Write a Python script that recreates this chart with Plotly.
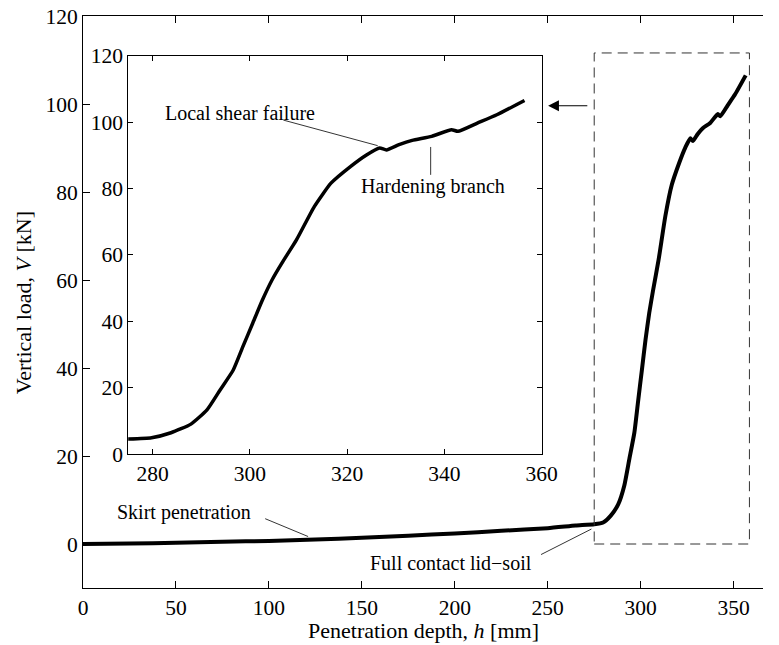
import plotly.graph_objects as go

# Penetration depth h [mm] and vertical load V [kN]
h = [0, 25, 50, 75, 100, 125, 150, 175, 200, 225, 250, 265, 275, 279.8, 283.8,
     287.9, 291.2, 293.9, 296.6, 298.6, 300.6, 302.6, 304.6, 306.6, 309.6, 313.3,
     316.7, 320.7, 324.0, 326.7, 328.1, 330.7, 333.4, 337.4, 341.5, 342.8, 346.8,
     350.8, 356.5]
V = [0, 0.1, 0.3, 0.5, 0.7, 1.0, 1.4, 1.9, 2.4, 3.0, 3.6, 4.2, 4.5, 4.9, 6.4,
     9.0, 13.3, 19.3, 25.3, 32.4, 39.4, 46.4, 52.5, 57.5, 64.5, 74.6,
     81.6, 86.6, 90.1, 92.2, 91.6, 93.2, 94.5, 95.7, 97.7, 97.2, 99.7,
     102.2, 106.5]

main_xticks = [0, 50, 100, 150, 200, 250, 300, 350]
main_yticks = [0, 20, 40, 60, 80, 100, 120]
inset_xticks = [280, 300, 320, 340, 360]
inset_yticks = [0, 20, 40, 60, 80, 100, 120]

FONT = "Liberation Serif"

fig = go.Figure()
fig.add_trace(go.Scatter(x=h, y=V, mode="lines",
                         line=dict(color="black", width=4, shape="spline", smoothing=0.5),
                         xaxis="x", yaxis="y", showlegend=False, hoverinfo="skip"))
fig.add_trace(go.Scatter(x=h, y=V, mode="lines",
                         line=dict(color="black", width=3.5, shape="spline", smoothing=0.5),
                         xaxis="x2", yaxis="y2", showlegend=False, hoverinfo="skip"))

ax_common = dict(showgrid=False, zeroline=False, showline=True, linecolor="black",
                 linewidth=1, ticks="inside", tickcolor="black", tickwidth=1,
                 tickfont=dict(family=FONT, size=21.5, color="black"))

fig.update_layout(
    width=779, height=645,
    margin=dict(l=83, r=0, t=16, b=57),
    paper_bgcolor="white", plot_bgcolor="white",
    font=dict(family=FONT, size=22, color="black"),
    xaxis=dict(range=[0, 365.8], tickvals=main_xticks, ticklen=7, mirror="ticks",
               **ax_common),
    yaxis=dict(range=[-10, 120], tickvals=main_yticks, ticklen=7, mirror=False,
               **ax_common),
    xaxis2=dict(domain=[0.0665, 0.6743], anchor="y2", range=[275, 360],
                tickvals=inset_xticks, ticklen=5, mirror="ticks", **ax_common),
    yaxis2=dict(domain=[0.2343, 0.9306], anchor="x2", range=[0, 120],
                tickvals=inset_yticks, ticklen=5, mirror="ticks", **ax_common),
)

shapes = [
    # dashed zoom box
    dict(type="rect", xref="x", yref="y", x0=275, x1=358.5, y0=0, y1=111.6,
         line=dict(color="#333", width=1, dash="10px,6px")),
    # leaders main
    dict(type="line", xref="x", yref="y", x0=98.0, y0=5.75, x1=121.1, y1=1.7,
         line=dict(color="black", width=0.8)),
    dict(type="line", xref="x", yref="y", x0=246.4, y0=-2.4, x1=273.5, y1=3.4,
         line=dict(color="black", width=0.8)),
    # leaders inset
    dict(type="line", xref="x2", yref="y2", x0=306.9, y0=100.6, x1=326.3, y1=92.9,
         line=dict(color="black", width=0.8)),
    dict(type="line", xref="x2", yref="y2", x0=337.2, y0=92.5, x1=337.2, y1=84.1,
         line=dict(color="black", width=0.8)),
]
fig.update_layout(shapes=shapes)

ann_font = dict(family=FONT, size=20, color="black")
annotations = [
    dict(text="Penetration depth, <i>h</i> [mm]", xref="paper", yref="paper",
         x=0.5, y=-0.0745, xanchor="center", yanchor="middle", showarrow=False,
         font=dict(family=FONT, size=22, color="black")),
    dict(text="Vertical load, <i>V</i> [kN]", xref="paper", yref="paper",
         x=-0.0881, y=0.498, xanchor="center", yanchor="middle", showarrow=False,
         textangle=-90, font=dict(family=FONT, size=22, color="black")),
    dict(text="Skirt penetration", xref="x", yref="y", x=54.5, y=7.2,
         xanchor="center", yanchor="middle", showarrow=False, font=ann_font),
    dict(text="Full contact lid\u2212soil", xref="x", yref="y", x=198.0, y=-4.3,
         xanchor="center", yanchor="middle", showarrow=False, font=ann_font),
    dict(text="Local shear failure", xref="x2", yref="y2", x=297.9, y=102.7,
         xanchor="center", yanchor="middle", showarrow=False, font=ann_font),
    dict(text="Hardening branch", xref="x2", yref="y2", x=337.7, y=80.6,
         xanchor="center", yanchor="middle", showarrow=False, font=ann_font),
    # arrow pointing to inset
    dict(text="", xref="x", yref="y", x=250.2, y=99.6, axref="x", ayref="y",
         ax=272.1, ay=99.6, showarrow=True, arrowhead=2, arrowsize=1.8,
         arrowwidth=1.2, arrowcolor="black", standoff=0, startstandoff=0),
]
fig.update_layout(annotations=annotations)

fig.write_html("out.html", config={"displayModeBar": False},
               post_script="document.body.style.margin='0';document.body.style.overflow='hidden';")
